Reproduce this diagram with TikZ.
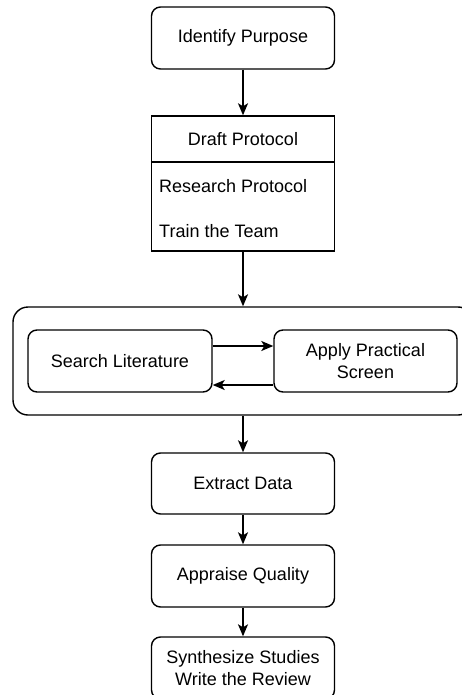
\documentclass[tikz,border=0pt]{standalone}
\usepackage{fontspec}
\setmainfont{Liberation Sans}
\usetikzlibrary{arrows.meta}
\begin{document}
\begin{tikzpicture}[x=1pt,y=-1pt,
  every node/.style={font=\fontsize{18}{22}\selectfont},
  box/.style={draw,line width=1.4pt,rounded corners=9pt,minimum width=183pt,minimum height=62pt,align=center,inner sep=0pt},
  sharpbox/.style={draw,line width=1.4pt,minimum width=183pt,inner sep=0pt},
  txt/.style={inner sep=0pt},
  arr/.style={line width=1.4pt,-{Stealth[length=12pt,width=10pt,inset=3pt]}}]
\useasboundingbox (0,0) rectangle (462,695);
\node[box] (purpose) at (243,38) {Identify Purpose};
\node[sharpbox,minimum height=135pt] (draft) at (243,183.5) {};
\node[txt] (drafttitle) at (243,139) {Draft Protocol};
\draw[line width=1.4pt] (draft.west |- 0,162) -- (draft.east |- 0,162);
\node[txt,anchor=west] (item1) at (159,186) {Research Protocol};
\node[txt,anchor=west] (item2) at (159,231) {Train the Team};
\node[draw,line width=1.4pt,rounded corners=15pt,minimum width=460pt,minimum height=108pt,inner sep=0pt] (group) at (243,361) {};
\node[box,minimum width=184pt] (search) at (120,361) {Search Literature};
\node[box] (screen) at (365.5,361) {Apply Practical\\Screen};
\node[box,minimum height=61pt] (extract) at (243,483.5) {Extract Data};
\node[box] (appraise) at (243,576) {Appraise Quality};
\node[box] (synth) at (243,668) {Synthesize Studies\\Write the Review};
\draw[arr] (purpose.south) -- (draft.north);
\draw[arr] (draft.south) -- (group.north);
\draw[arr] ([yshift=15pt]search.east) -- ([yshift=15pt]screen.west);
\draw[arr] ([yshift=-24pt]screen.west) -- ([yshift=-24pt]search.east);
\draw[arr] (group.south) -- (extract.north);
\draw[arr] (extract.south) -- (appraise.north);
\draw[arr] (appraise.south) -- (synth.north);
\end{tikzpicture}
\end{document}
